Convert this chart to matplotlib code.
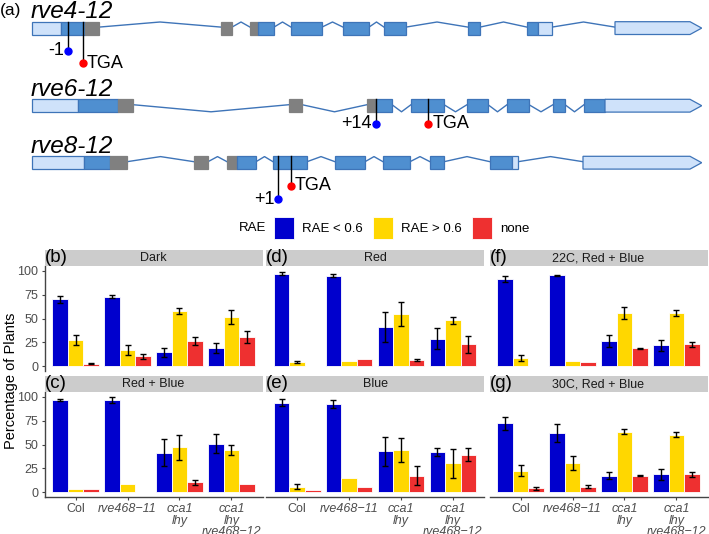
import numpy as np
import matplotlib
matplotlib.use('Agg')
import matplotlib.pyplot as plt
from matplotlib.patches import Rectangle, Polygon, Patch

plt.rcParams['font.family'] = ['Liberation Sans', 'DejaVu Sans']

nan = np.nan

# (a) gene models: exons as (start, end, kind) on the drawing's horizontal scale
gene_names = ['rve4-12', 'rve6-12', 'rve8-12']
rve4_exons = [(32, 61, 'utr'), (61, 85, 'cds'), (85, 99, 'gray'), (221, 232, 'gray'),
              (250, 258, 'gray'), (258, 274, 'cds'), (291, 322, 'cds'), (343, 369, 'cds'),
              (384, 406, 'cds'), (468, 480, 'cds'), (527, 538, 'cds'), (538, 552, 'utr'),
              (615, 690, 'utr')]
rve6_exons = [(32, 78, 'utr'), (78, 118, 'cds'), (118, 133, 'gray'), (289, 302, 'gray'),
              (367, 376, 'gray'), (376, 392, 'cds'), (411, 444, 'cds'), (467, 488, 'cds'),
              (507, 529, 'cds'), (553, 565, 'cds'), (584, 605, 'cds'), (605, 690, 'utr')]
rve8_exons = [(32, 84, 'utr'), (84, 110, 'cds'), (110, 127, 'gray'), (194, 208, 'gray'),
              (227, 237, 'gray'), (237, 256, 'cds'), (273, 307, 'cds'), (335, 365, 'cds'),
              (383, 410, 'cds'), (430, 444, 'cds'), (490, 512, 'cds'), (512, 518, 'utr'),
              (583, 690, 'utr')]
# mutation sites: (position, label, kind)
rve4_marks = [(68.3, '-1', 'indel'), (82.7, 'TGA', 'stop')]
rve6_marks = [(376, '+14', 'indel'), (428.3, 'TGA', 'stop')]
rve8_marks = [(278.3, '+1', 'indel'), (291, 'TGA', 'stop')]

# (b)-(g) bar panels
conditions = ['Dark', 'Red', '22C, Red + Blue', 'Red + Blue', 'Blue', '30C, Red + Blue']
tags = ['(b)', '(d)', '(f)', '(c)', '(e)', '(g)']
genotypes = ['Col', 'rve468\u221211', 'cca1\nlhy', 'cca1\nlhy\nrve468\u221212']
series_names = ['RAE < 0.6', 'RAE > 0.6', 'none']

rae_low = [
    [70, 73, 14.7, 19],
    [96.8, 95, 41, 29],
    [91, 95.4, 26.7, 21.8],
    [96.8, 96.5, 41.4, 51],
    [94, 92.3, 42.8, 41.8],
    [72.3, 62, 17.5, 19],
]
rae_low_err = [
    [3.8, 2, 4.9, 5],
    [1.5, 2, 15.5, 10.7],
    [3.2, 0.6, 6.1, 5.5],
    [1.2, 3.2, 14, 9.8],
    [3.5, 4.4, 15.1, 4.2],
    [6.6, 9.5, 3.5, 5.8],
]
rae_high = [
    [27.4, 16.8, 57.9, 51.2],
    [4.5, 5.6, 54.4, 48],
    [8.4, 5.6, 55.4, 55.4],
    [3.9, 8.4, 47, 43.9],
    [6, 15, 44.6, 30.5],
    [22.5, 30.9, 63.2, 60.4],
]
rae_high_err = [
    [5, 5, 3.3, 7.4],
    [0.8, nan, 12.6, 4],
    [3.2, nan, 6.3, 3.1],
    [nan, nan, 13.4, 5.4],
    [2.2, nan, 12.5, 15.3],
    [5.6, 7.5, 2.7, 3],
]
no_rhythm = [
    [2.8, 10.5, 26.3, 30.2],
    [nan, 7.5, 7, 23],
    [nan, 4, 18.6, 23],
    [3.9, nan, 10.5, 8.1],
    [2.5, 5.3, 17.2, 39.3],
    [4.2, 5.6, 17.5, 18.6],
]
no_rhythm_err = [
    [0.7, 2.8, 4, 6.3],
    [nan, nan, 1, 9],
    [nan, nan, 0.6, 2.5],
    [nan, nan, 2.8, nan],
    [nan, nan, 10, 6.8],
    [1.4, 1.6, 0.6, 2.5],
]

bar_colors = ['#0000CD', '#FFD700', '#EE3030']
fill = {'utr': '#CFE2FA', 'cds': '#4F8FD0', 'gray': '#808080'}
edge = {'utr': '#3E74B8', 'cds': '#3E74B8', 'gray': '#808080'}
mark_colors = {'indel': '#0000FF', 'stop': '#FF0000'}

W, H = 709, 534
fig = plt.figure(figsize=(W / 100, H / 100), dpi=100)


def px_axes(left, top, width, height):
    return fig.add_axes([left / W, 1 - (top + height) / H, width / W, height / H])


# ---- (a) gene diagrams, drawn in a pixel-like coordinate frame
ax_a = px_axes(0, 0, W, 212)
ax_a.set_xlim(0, W)
ax_a.set_ylim(212, 0)
ax_a.axis('off')

ax_a.text(0, 3.5, '(a)', fontsize=12.5, va='top', ha='left')

gene_exons = [rve4_exons, rve6_exons, rve8_exons]
gene_marks = [rve4_marks, rve6_marks, rve8_marks]
box_tops = [21.7, 99.3, 156.3]
title_base = [18, 96, 153]
bends = [1, -1, 1]
drops = [{'indel': 29, 'stop': 41.6}, {'indel': 24.7, 'stop': 24.7}, {'indel': 42.7, 'stop': 29.4}]
bh = 12.8

for g in range(3):
    top = box_tops[g]
    yc = top + bh / 2
    exons = gene_exons[g]
    ax_a.text(31, title_base[g], gene_names[g], fontsize=17.5, style='italic',
              va='baseline', ha='left')
    for i, (s, e, kind) in enumerate(exons):
        if i > 0:
            prev_end = exons[i - 1][1]
            if s - prev_end > 1:
                peak = top + 0.3 if bends[g] > 0 else top + bh - 0.3
                ax_a.plot([prev_end, (prev_end + s) / 2, s], [yc - 1, peak, yc - 1],
                          color='#3E74B8', lw=1, zorder=1)
        if i == len(exons) - 1:
            ax_a.add_patch(Polygon([(s, top), (e, top), (e + 11.7, yc), (e, top + bh), (s, top + bh)],
                                   closed=True, fc=fill[kind], ec=edge[kind], lw=0.9, zorder=2))
        else:
            ax_a.add_patch(Rectangle((s, top), e - s, bh, fc=fill[kind], ec=edge[kind],
                                     lw=0.9, zorder=2))
    for pos, lab, kind in gene_marks[g]:
        ydot = top + drops[g][kind]
        ax_a.plot([pos, pos], [top, ydot], color='black', lw=1, zorder=3)
        ax_a.plot(pos, ydot, 'o', color=mark_colors[kind], ms=5, zorder=4)
        if kind == 'indel':
            ax_a.text(pos - 4, ydot, lab, fontsize=13, ha='right', va='center')
        else:
            ax_a.text(pos + 4, ydot, lab, fontsize=13, ha='left', va='center')

# ---- legend
fig.text(239 / W, 1 - 228 / H, 'RAE', fontsize=9.5, ha='left', va='center')
handles = [Patch(facecolor=c, edgecolor='white', lw=0.6) for c in bar_colors]
fig.legend(handles, series_names, loc='center left', bbox_to_anchor=(274 / W, 1 - 228 / H),
           ncol=3, frameon=False, fontsize=9.5, handlelength=1.55, handleheight=2.1,
           handletextpad=0.6, columnspacing=0.75, borderpad=0, borderaxespad=0)

# ---- bar panels
col_left = [44.5, 266, 489.5]
panel_w = 218
row_top = [266, 392]
panel_h = 105
strip_h = 16.5

means = [rae_low, rae_high, no_rhythm]
errs = [rae_low_err, rae_high_err, no_rhythm_err]
x = np.arange(1, len(genotypes) + 1)
offsets = [-0.3, 0, 0.3]

for k, cond in enumerate(conditions):
    r, c = divmod(k, 3)
    ax = px_axes(col_left[c], row_top[r], panel_w, panel_h)
    for s in range(3):
        vals = np.array(means[s][k], dtype=float)
        ee = np.array(errs[s][k], dtype=float)
        ok = ~np.isnan(vals)
        ax.bar(x[ok] + offsets[s], vals[ok], width=0.3, color=bar_colors[s],
               edgecolor='white', linewidth=0.6, zorder=2)
        ok_e = ok & ~np.isnan(ee)
        ax.errorbar(x[ok_e] + offsets[s], vals[ok_e], yerr=ee[ok_e], fmt='none',
                    ecolor='black', elinewidth=1, capsize=2, capthick=1, zorder=3)
    ax.set_xlim(0.4, 4.6)
    ax.set_ylim(-5, 105)
    for sp in ['top', 'right']:
        ax.spines[sp].set_visible(False)
    ax.spines['left'].set_visible(c == 0)
    ax.spines['bottom'].set_visible(r == 1)
    for sp in ['left', 'bottom']:
        ax.spines[sp].set_color('#444444')
        ax.spines[sp].set_linewidth(1)
    ax.set_yticks([0, 25, 50, 75, 100])
    ax.set_xticks(x)
    ax.tick_params(axis='both', length=2.5, width=0.8, color='#444444',
                   labelsize=9, labelcolor='#4D4D4D', pad=2)
    if c == 0:
        ax.set_yticklabels(['0', '25', '50', '75', '100'])
    else:
        ax.tick_params(axis='y', left=False, labelleft=False)
    if r == 1:
        ax.set_xticklabels(genotypes, linespacing=0.92)
        for lab, g in zip(ax.get_xticklabels(), genotypes):
            if g != 'Col':
                lab.set_fontstyle('italic')
    else:
        ax.tick_params(axis='x', bottom=False, labelbottom=False)

    st = px_axes(col_left[c], row_top[r] - strip_h, panel_w, strip_h)
    st.set_xticks([])
    st.set_yticks([])
    for sp in st.spines.values():
        sp.set_visible(False)
    st.set_facecolor('#CCCCCC')
    st.text(0.5, 0.48, cond, transform=st.transAxes, ha='center', va='center',
            fontsize=9, color='#1A1A1A')
    st.text(0.0, 0.5, tags[k], transform=st.transAxes, ha='left', va='center',
            fontsize=13.5, color='black')

fig.text(11 / W, 1 - 381 / H, 'Percentage of Plants', rotation=90, fontsize=10.5,
         ha='center', va='center')

fig.savefig('out.png', dpi=100)
